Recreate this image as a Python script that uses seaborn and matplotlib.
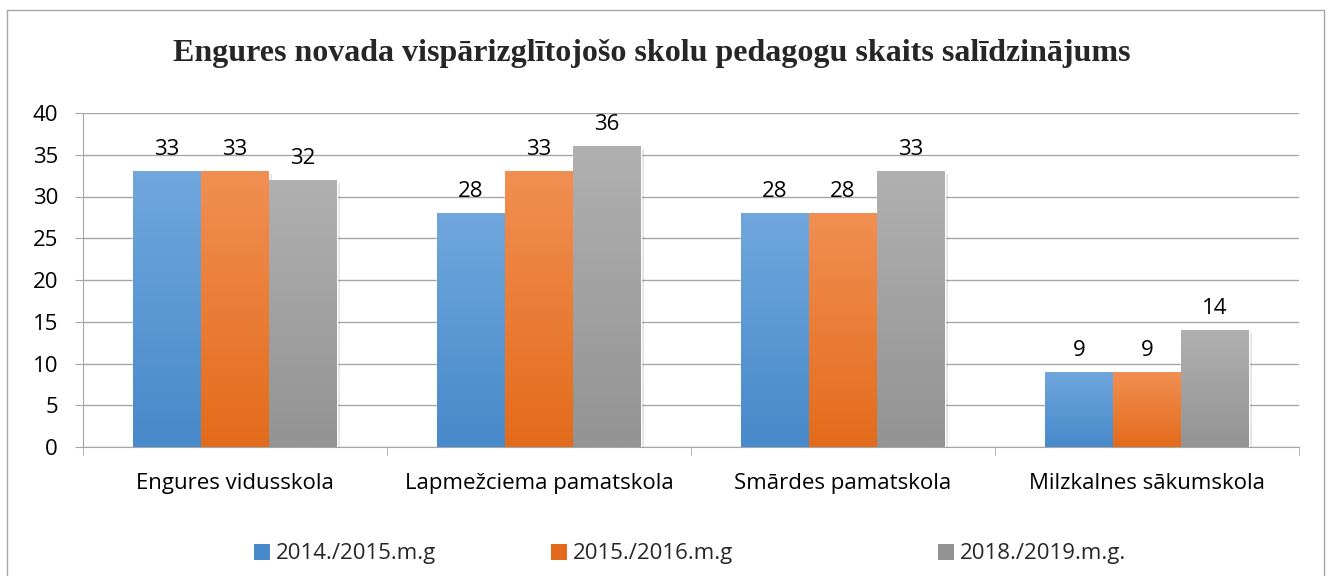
import seaborn as sns
import pandas as pd
import matplotlib.pyplot as plt
import numpy as np
import matplotlib.patheffects as pe
from matplotlib.patches import Rectangle
from matplotlib.colors import LinearSegmentedColormap


# data
schools = ['Engures vidusskola', 'Lapmežciema pamatskola', 'Smārdes pamatskola', 'Milzkalnes sākumskola']
years = ['2014./2015.m.g', '2015./2016.m.g', '2018./2019.m.g.']
teachers_1415 = [33, 28, 28, 9]
teachers_1516 = [33, 33, 28, 9]
teachers_1819 = [32, 36, 33, 14]

df = pd.DataFrame({
    'school': schools * 3,
    'year': np.repeat(years, len(schools)),
    'count': teachers_1415 + teachers_1516 + teachers_1819,
})

# gradient colours (top, bottom) per series
grad = {
    years[0]: ('#70a7dd', '#4789ca'),
    years[1]: ('#f18f52', '#e36b1b'),
    years[2]: ('#b0b0b0', '#939393'),
}
palette = {y: grad[y][1] for y in years}

sns.set_style('white')
plt.rcParams['font.family'] = ['Open Sans', 'DejaVu Sans']
FS = 16

fig = plt.figure(figsize=(13.3, 5.76), dpi=100)
ax = fig.add_axes([83 / 1330, 1 - 447 / 576, (1299 - 83) / 1330, (447 - 113) / 576])

sns.barplot(data=df, x='school', y='count', hue='year', palette=palette,
            width=0.67, ax=ax, saturation=1, legend=True)

handles, labels = ax.get_legend_handles_labels()
ax.get_legend().remove()

# gradient fill + soft shadow for each bar
for cont, y in zip(ax.containers, years):
    cmap = LinearSegmentedColormap.from_list(y, [grad[y][0], grad[y][1]])
    for p in cont.patches:
        p.set_path_effects([pe.SimplePatchShadow(offset=(2, -2), alpha=0.12), pe.Normal()])
        x0, y0 = p.get_x(), p.get_y()
        w, h = p.get_width(), p.get_height()
        im = ax.imshow(np.linspace(0, 1, 256).reshape(-1, 1), cmap=cmap, aspect='auto',
                       extent=(x0, x0 + w, y0, y0 + h), origin='upper', zorder=p.get_zorder() + 0.1)
        im.set_clip_path(p)
    ax.bar_label(cont, padding=8, fontsize=FS, color='black', zorder=5)

ax.set_xlim(-0.5, 3.5)
ax.set_ylim(0, 40)
ax.set_yticks(range(0, 41, 5))
ax.set_xlabel('')
ax.set_ylabel('')

ax.yaxis.grid(True, color='#a6a6a6', linewidth=1)
ax.set_axisbelow(True)
for s in ['top', 'right']:
    ax.spines[s].set_visible(False)
ax.spines['left'].set_color('#a6a6a6')
ax.spines['bottom'].set_color('#a6a6a6')

ax.tick_params(axis='y', length=6, color='#a6a6a6', pad=12, labelsize=FS, left=True, labelcolor='black')
ax.tick_params(axis='x', which='major', length=0, pad=19, labelsize=FS, labelcolor='black')
ax.set_xticks(np.arange(-0.5, 4, 1), minor=True)
ax.tick_params(axis='x', which='minor', length=6, color='#a6a6a6', bottom=True)

fig.text(652 / 1330, 1 - 53 / 576, 'Engures novada vispārizglītojošo skolu pedagogu skaits salīdzinājums',
         ha='center', va='center', fontsize=23, fontweight='bold', family='Liberation Serif')

# legend entries spread along the bottom
for h, l, xpos in zip(handles, labels, [254, 551, 938]):
    h.set_edgecolor('none')
    fig.legend([h], [l], loc='center left', bbox_to_anchor=(xpos / 1330, 1 - 554 / 576),
               frameon=False, fontsize=FS, handlelength=0.7, handleheight=0.7,
               handletextpad=0.3, borderpad=0, borderaxespad=0)

# chart frame
fig.patches.append(Rectangle((7 / 1330, -0.02), (1324 - 7) / 1330, 1 - 10 / 576 + 0.02,
                             transform=fig.transFigure, fill=False, edgecolor='#a6a6a6', linewidth=1))

plt.savefig('out.png', dpi=100)
